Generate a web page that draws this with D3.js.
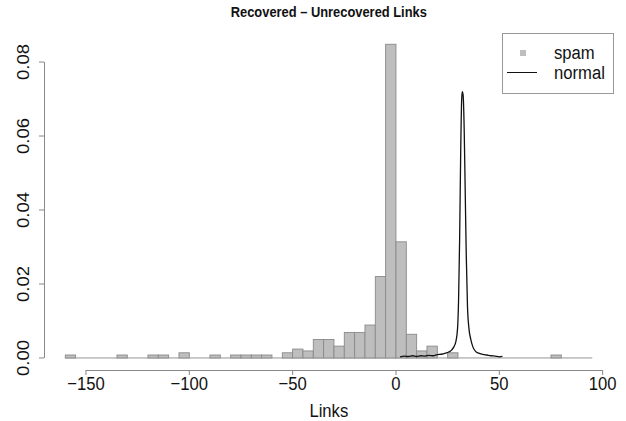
<!DOCTYPE html>
<html><head><meta charset="utf-8">
<script src="https://cdn.jsdelivr.net/npm/d3@7"></script>
<style>
html,body{margin:0;padding:0;background:#fff;}
svg text{font-family:"Liberation Sans",Arial,Helvetica,sans-serif;fill:#111;}
</style></head>
<body><svg id="c" width="626" height="421"></svg>
<script>
// Histogram bins (start of each 5-unit bin) and spam densities
const binStarts = [-160,-155,-150,-145,-140,-135,-130,-125,-120,-115,-110,-105,-100,-95,-90,-85,-80,-75,-70,-65,-60,-55,-50,-45,-40,-35,-30,-25,-20,-15,-10,-5,0,5,10,15,20,25,30,35,40,45,50,55,60,65,70,75,80,85,90];
const spamDensity = [0.0008,0,0,0,0,0.0008,0,0,0.0008,0.0008,0,0.0014,0,0,0.0008,0,0.0008,0.0008,0.0008,0.0008,0,0.0014,0.0024,0.0019,0.0050,0.0050,0.0032,0.0069,0.0069,0.0089,0.0220,0.0848,0.0314,0.0064,0.0019,0.0032,0,0.0014,0,0,0,0,0,0,0,0,0,0.0008,0,0,0];
const binWidth = 5;
// Density curve of the normal links
const normalX = [2,4,6,8,10,12,14,16,18,20,22,24,25.5,27,28,29,29.8,30.3,30.8,31.3,31.8,32.1,32.5,33.0,33.5,34.0,34.6,35.3,36.2,37.2,38.5,40,42,44,46,48,50,51.5];
const normalY = [0.0003,0.0005,0.0004,0.0006,0.0004,0.0006,0.0005,0.0007,0.0006,0.0009,0.0010,0.0013,0.0016,0.0022,0.0030,0.0045,0.008,0.016,0.032,0.055,0.070,0.072,0.071,0.062,0.045,0.028,0.014,0.008,0.005,0.003,0.0018,0.0013,0.0010,0.0008,0.0006,0.0005,0.0003,0.0004];
const xTicks = [-150,-100,-50,0,50,100];
const yTicks = [0,0.02,0.04,0.06,0.08];
const title = "Recovered – Unrecovered Links";
const xLabel = "Links";
const legendLabels = ["spam","normal"];

const svg = d3.select("#c");
const x = d3.scaleLinear().domain([-170.2,105.2]).range([44.2,613.4]);
const y = d3.scaleLinear().domain([-0.00339,0.0882]).range([370.5,31.7]);
const axisCol = "#888";
const sq = 0.9; // horizontal squeeze of the glyphs seen in the reference
const fmtX = d => d<0 ? "\u2212"+Math.abs(d) : String(d);
const fmtY = d3.format(".2f");

// zero baseline for all bins (zero-count bins drawn flat)
const lastBin = binStarts[binStarts.length-1]+binWidth;
svg.append("line").attr("x1",x(binStarts[0])).attr("x2",x(lastBin))
  .attr("y1",y(0)).attr("y2",y(0)).attr("stroke","#8a8a8a").attr("stroke-width",0.9);

// bars
const nz = binStarts.map((d,i)=>({s:d,v:spamDensity[i]})).filter(d=>d.v>0);
svg.append("g").selectAll("rect").data(nz).join("rect")
  .attr("x", d=>x(d.s)).attr("width", d=>x(d.s+binWidth)-x(d.s))
  .attr("y", d=>y(d.v)).attr("height", d=>y(0)-y(d.v))
  .attr("fill","#bebebe").attr("stroke","#8a8a8a").attr("stroke-width",0.9);

// density line
const line = d3.line().x(d=>x(d[0])).y(d=>y(d[1])).curve(d3.curveMonotoneX);
svg.append("path").datum(normalX.map((v,i)=>[v,normalY[i]]))
  .attr("d",line).attr("fill","none").attr("stroke","#111").attr("stroke-width",1.3);

// x axis (R style)
const yb = 370;
svg.append("rect").attr("x",x(xTicks[0])).attr("width",x(xTicks[xTicks.length-1])-x(xTicks[0]))
  .attr("y",yb).attr("height",1).attr("fill",axisCol);
svg.selectAll("rect.xt").data(xTicks).join("rect").attr("class","xt")
  .attr("x",d=>x(d)-0.5).attr("width",1).attr("y",yb).attr("height",5).attr("fill",axisCol);
svg.selectAll("text.xl").data(xTicks).join("text").attr("class","xl")
  .attr("transform",d=>`translate(${x(d)},${yb+20}) scale(${sq},1)`)
  .attr("text-anchor","middle").attr("font-size",18.5).text(fmtX);

// y axis
const xl = 44;
svg.append("rect").attr("x",xl).attr("width",1).attr("y",y(yTicks[yTicks.length-1]))
  .attr("height",y(yTicks[0])-y(yTicks[yTicks.length-1])).attr("fill",axisCol);
svg.selectAll("rect.yt").data(yTicks).join("rect").attr("class","yt")
  .attr("x",xl-5).attr("width",5).attr("y",d=>y(d)-0.5).attr("height",1).attr("fill",axisCol);
svg.selectAll("text.yl").data(yTicks).join("text").attr("class","yl")
  .attr("transform",d=>`translate(${xl-15},${y(d)}) scale(${sq},1) rotate(-90)`)
  .attr("text-anchor","middle").attr("font-size",18.5).text(fmtY);

// title and axis label
const cx = (x.range()[0]+x.range()[1])/2;
svg.append("text").attr("transform",`translate(${cx},17) scale(0.86,1)`).attr("text-anchor","middle")
  .attr("font-weight","bold").attr("font-size",15).text(title);
svg.append("text").attr("transform",`translate(${cx},417) scale(${sq},1)`).attr("text-anchor","middle")
  .attr("font-size",18.5).text(xLabel);

// legend
const lg = svg.append("g");
lg.append("rect").attr("x",502.5).attr("y",33.5).attr("width",111).attr("height",60)
  .attr("fill","#fff").attr("stroke","#999");
lg.append("rect").attr("x",520).attr("y",50).attr("width",6).attr("height",6).attr("fill","#bebebe");
lg.append("line").attr("x1",507).attr("x2",537).attr("y1",72.5).attr("y2",72.5).attr("stroke","#111");
lg.selectAll("text.l").data(legendLabels).join("text").attr("class","l")
  .attr("transform",(d,i)=>`translate(554,${59+i*20}) scale(${sq},1)`)
  .attr("font-size",18.5).text(d=>d);
</script></body></html>
